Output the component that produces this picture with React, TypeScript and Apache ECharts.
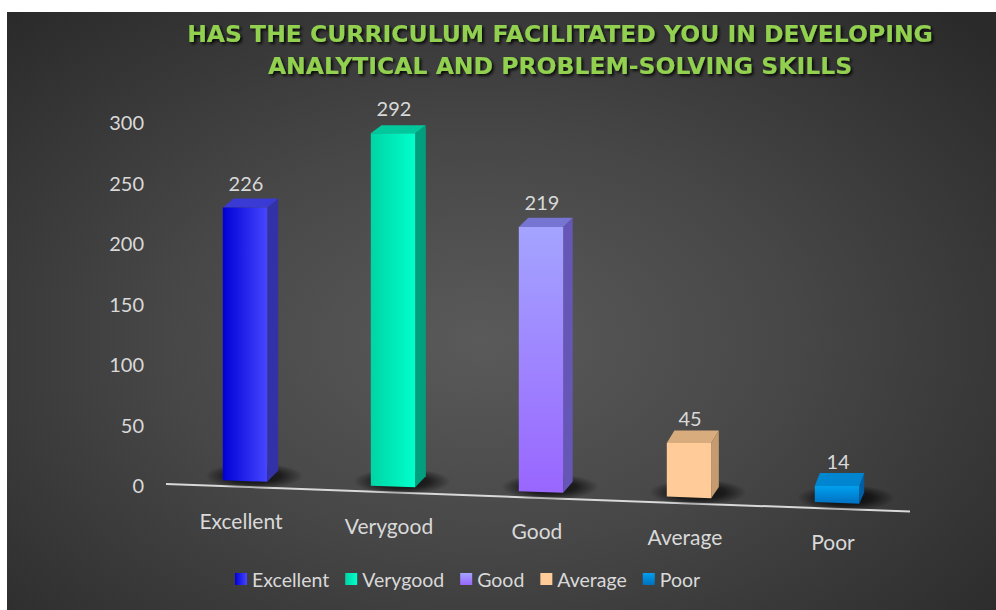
import React, { useEffect, useRef } from 'react';
import * as echarts from 'echarts';

const categories = ['Excellent', 'Verygood', 'Good', 'Average', 'Poor'];
const values = [226, 292, 219, 45, 14];
const yMin = 0;
const yMax = 300;
const yInterval = 50;
const titleLines = [
  'HAS THE CURRICULUM FACILITATED YOU IN DEVELOPING',
  'ANALYTICAL AND PROBLEM-SOLVING SKILLS',
];

// face colours per category
const frontStops = [
  { dir: 'h', stops: ['#0000d6', '#4646ff'] },
  { dir: 'h', stops: ['#00d4a4', '#00ffcc'] },
  { dir: 'v', stops: ['#a4a4ff', '#9966ff'] },
  { dir: 'v', stops: ['#ffcc99', '#ffcc99'] },
  { dir: 'v', stops: ['#00a0ee', '#0070c0'] },
];
const sideColors = ['#3232a6', '#00a07e', '#6656b6', '#c49c70', '#005ea4'];
const topColors = ['#3a3ad4', '#00c89c', '#7676d2', '#d8ac7c', '#0086d0'];

const TEXT = '#d9d9d9';
const FONT = 'Lato';
const SLOPE = 0.037;

function grad(i: number) {
  const f = frontStops[i];
  const horiz = f.dir === 'h';
  return new echarts.graphic.LinearGradient(0, 0, horiz ? 1 : 0, horiz ? 0 : 1, [
    { offset: 0, color: f.stops[0] },
    { offset: 1, color: f.stops[1] },
  ]);
}

function makeRender(i: number) {
  return (params: any, api: any) => {
    const idx = api.value(0);
    const val = api.value(1);
    const base = api.coord([idx, 0]);
    const top = api.coord([idx, val]);
    const band = api.size([1, 0])[0];
    const cs = params.coordSys;
    const cx = base[0];
    const cx0 = cs.x + band / 2;
    const bottomY = base[1] - 4 + (cx - cx0) * SLOPE;
    const h = base[1] - top[1];
    const w = band * 0.3;
    const xl = cx - w / 2;
    const xr = cx + w / 2;
    const bl = bottomY - (w / 2) * SLOPE;
    const br = bottomY + (w / 2) * SLOPE;
    const yt = bottomY - h;
    const xr0 = cx0 + w / 2;
    const dx = 11 - 1.71e-5 * (xr - xr0) * (xr - xr0);
    const dy = 6.2 + 0.0144 * yt;
    const dyb = (6.2 + 0.0144 * bottomY) * 0.85;

    const children: any[] = [];
    if (i === 0) {
      children.push({
        type: 'line',
        z2: 1,
        shape: {
          x1: cs.x - 5,
          y1: base[1] - 1,
          x2: cs.x + cs.width - 1,
          y2: base[1] - 1 + (cs.width + 4) * SLOPE,
        },
        style: { stroke: '#d9d9d9', lineWidth: 2 },
      });
    }
    children.push(
      {
        type: 'ellipse',
        z2: 2,
        shape: { cx: cx + 9, cy: bottomY - 5, rx: w * 1.1, ry: 13 },
        style: {
          fill: new echarts.graphic.RadialGradient(0.5, 0.5, 0.5, [
            { offset: 0, color: 'rgba(0,0,0,0.85)' },
            { offset: 0.55, color: 'rgba(0,0,0,0.6)' },
            { offset: 1, color: 'rgba(0,0,0,0)' },
          ]),
        },
      },
      {
        type: 'polygon',
        z2: 3,
        shape: {
          points: [
            [xr, br],
            [xr + dx, br - dyb],
            [xr + dx, yt - dy],
            [xr, yt],
          ],
        },
        style: { fill: sideColors[i] },
      },
      {
        type: 'polygon',
        z2: 3,
        shape: {
          points: [
            [xl, yt],
            [xr, yt],
            [xr + dx, yt - dy],
            [xl + dx, yt - dy],
          ],
        },
        style: { fill: topColors[i] },
      },
      {
        type: 'polygon',
        z2: 4,
        shape: {
          points: [
            [xl, bl],
            [xr, br],
            [xr, yt],
            [xl, yt],
          ],
        },
        style: { fill: grad(i) },
      },
      {
        type: 'text',
        z2: 5,
        style: {
          text: String(val),
          x: cx + 1,
          y: yt - 25,
          fill: TEXT,
          fontSize: 20,
          fontFamily: FONT,
          align: 'center',
          verticalAlign: 'middle',
        },
      },
      {
        type: 'text',
        z2: 5,
        style: {
          text: categories[idx],
          x: cx - 4,
          y: bottomY + 39,
          fill: TEXT,
          fontSize: 21,
          fontFamily: FONT,
          align: 'center',
          verticalAlign: 'middle',
        },
      }
    );
    return { type: 'group', children };
  };
}

export default function App() {
  const ref = useRef<HTMLDivElement>(null);
  useEffect(() => {
    if (!ref.current) return;
    const chart = echarts.init(ref.current, null, { renderer: 'svg' });
    const series = categories.map((name, i) => ({
      type: 'custom',
      name,
      encode: { x: 0, y: 1 },
      data: [[i, values[i]]],
      itemStyle: { color: grad(i) },
      renderItem: makeRender(i),
    }));
    chart.setOption({
      animation: false,
      backgroundColor: 'transparent',
      textStyle: { fontFamily: FONT },
      grid: { left: 164, right: 85, top: 110, bottom: 125 },
      xAxis: {
        type: 'category',
        data: categories,
        axisLine: { show: false },
        axisTick: { show: false },
        axisLabel: { show: false },
        splitLine: { show: false },
      },
      yAxis: {
        type: 'value',
        min: yMin,
        max: yMax,
        interval: yInterval,
        axisLine: { show: false },
        axisTick: { show: false },
        splitLine: { show: false },
        axisLabel: { color: TEXT, fontSize: 20, fontFamily: FONT, margin: 27 },
      },
      legend: {
        data: categories,
        left: 223,
        top: 552,
        icon: 'rect',
        itemWidth: 12,
        itemHeight: 12,
        itemGap: 16,
        textStyle: { color: TEXT, fontSize: 19.5, fontFamily: FONT },
      },
      graphic: [
        {
          type: 'text',
          x: 553,
          y: 6,
          style: {
            text: titleLines.join('\n'),
            fill: '#92d050',
            fontSize: 23.5,
            fontWeight: 'bold',
            fontFamily: 'DejaVu Sans',
            lineHeight: 32,
            align: 'center',
            verticalAlign: 'top',
            textShadowColor: 'rgba(0,0,0,0.85)',
            textShadowBlur: 3,
            textShadowOffsetX: 2,
            textShadowOffsetY: 2,
          },
        },
      ],
      series,
    });
    return () => chart.dispose();
  }, []);
  return (
    <div
      ref={ref}
      style={{
        position: 'absolute',
        left: 7,
        top: 12,
        width: 989,
        height: 598,
        background:
          'radial-gradient(ellipse 70% 75% at 48% 55%, #5a5a5a 0%, #474747 45%, #2a2a2a 100%)',
      }}
    />
  );
}
